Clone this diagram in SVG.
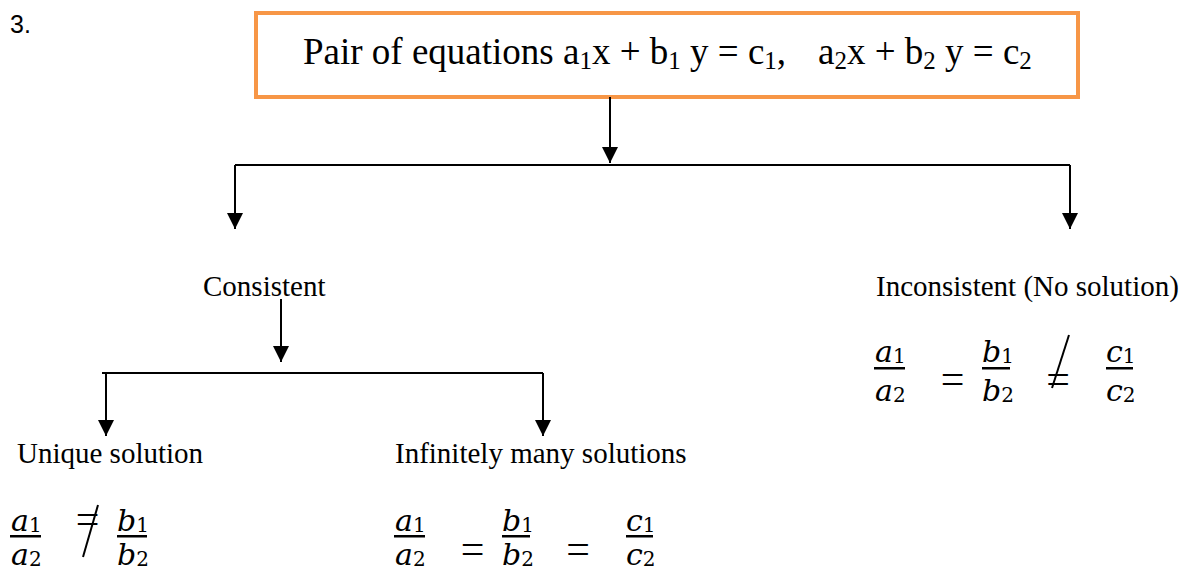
<svg xmlns="http://www.w3.org/2000/svg" width="1182" height="572" viewBox="0 0 1182 572">
<style>
.t{font-family:"Liberation Serif","Times New Roman",serif;fill:#000}
.title{font-size:37px}
.tsub{font-size:25px}
.lbl{font-size:29px}
.num{font-family:"Liberation Sans",Arial,sans-serif;font-size:25px;fill:#000}
.mi{font-family:"DejaVu Serif",serif;font-style:italic;font-size:30px;fill:#000}
.ms{font-family:"DejaVu Serif",serif;font-style:normal;font-size:20px}
.eq{font-family:"Liberation Serif",serif;font-size:42px;fill:#000}
.bar{fill:#000}
.conn{stroke:#000;stroke-width:2;fill:none}
.slash{stroke:#000;stroke-width:2;fill:none}
</style>
<defs>
<marker id="arr" markerUnits="userSpaceOnUse" markerWidth="16" markerHeight="16" viewBox="0 0 16 16" refX="16" refY="8" orient="auto">
<path d="M0,0 L16,8 L0,16 Z" fill="#000"/>
</marker>
</defs>
<rect width="1182" height="572" fill="#fff"/>
<text class="num" x="10" y="33">3.</text>

<g id="root">
<rect x="256" y="13" width="822" height="84" fill="#fff" stroke="#F79646" stroke-width="4"/>
<text class="t title" x="303" y="64">Pair of equations a<tspan class="tsub" dy="5">1</tspan><tspan dy="-5">x + b</tspan><tspan class="tsub" dy="5">1</tspan><tspan dy="-5"> y = c</tspan><tspan class="tsub" dy="5">1</tspan><tspan dy="-5">,</tspan><tspan x="818">a</tspan><tspan class="tsub" dy="5">2</tspan><tspan dy="-5">x + b</tspan><tspan class="tsub" dy="5">2</tspan><tspan dy="-5"> y = c</tspan><tspan class="tsub" dy="5">2</tspan></text>
</g>

<g id="connectors">
<line class="conn" x1="610" y1="97" x2="610" y2="163" marker-end="url(#arr)"/>
<polyline class="conn" points="235,165 1070,165"/>
<line class="conn" x1="235" y1="165" x2="235" y2="229" marker-end="url(#arr)"/>
<line class="conn" x1="1070" y1="165" x2="1070" y2="229" marker-end="url(#arr)"/>
<line class="conn" x1="281" y1="299" x2="281" y2="362" marker-end="url(#arr)"/>
<polyline class="conn" points="102,373 543,373"/>
<line class="conn" x1="106" y1="373" x2="106" y2="436" marker-end="url(#arr)"/>
<line class="conn" x1="543" y1="373" x2="543" y2="436" marker-end="url(#arr)"/>
</g>

<g id="consistent">
<text class="t lbl" x="203" y="296">Consistent</text>
</g>

<g id="inconsistent">
<text class="t lbl" x="876" y="296">Inconsistent (No solution)</text>
<text class="mi" x="875" y="362">a<tspan class="ms" dy="1">1</tspan></text>
<rect class="bar" x="874" y="367" width="31" height="2.5"/>
<text class="mi" x="875" y="401">a<tspan class="ms" dy="1">2</tspan></text>
<text class="eq" x="952.5" y="393" text-anchor="middle">=</text>
<text class="mi" x="982" y="362">b<tspan class="ms" dy="1">1</tspan></text>
<rect class="bar" x="982" y="367" width="28" height="2.5"/>
<text class="mi" x="982" y="401">b<tspan class="ms" dy="1">2</tspan></text>
<text class="eq" x="1058" y="393" text-anchor="middle">=</text>
<line class="slash" x1="1069" y1="335" x2="1052" y2="388"/>
<text class="mi" x="1106" y="362">c<tspan class="ms" dy="1">1</tspan></text>
<rect class="bar" x="1106" y="367" width="27" height="2.5"/>
<text class="mi" x="1106" y="401">c<tspan class="ms" dy="1">2</tspan></text>
</g>

<g id="unique">
<text class="t lbl" x="17" y="463">Unique solution</text>
<text class="mi" x="11" y="531">a<tspan class="ms" dy="1">1</tspan></text>
<rect class="bar" x="10" y="535" width="31" height="2.5"/>
<text class="mi" x="11" y="565">a<tspan class="ms" dy="1">2</tspan></text>
<text class="eq" x="87.5" y="533" text-anchor="middle">=</text>
<line class="slash" x1="98" y1="505" x2="83" y2="557"/>
<text class="mi" x="117" y="531">b<tspan class="ms" dy="1">1</tspan></text>
<rect class="bar" x="117" y="535" width="30" height="2.5"/>
<text class="mi" x="117" y="565">b<tspan class="ms" dy="1">2</tspan></text>
</g>

<g id="infinite">
<text class="t lbl" x="395" y="463">Infinitely many solutions</text>
<text class="mi" x="395" y="531">a<tspan class="ms" dy="1">1</tspan></text>
<rect class="bar" x="394" y="535" width="31" height="2.5"/>
<text class="mi" x="395" y="565">a<tspan class="ms" dy="1">2</tspan></text>
<text class="eq" x="472.5" y="563" text-anchor="middle">=</text>
<text class="mi" x="502" y="531">b<tspan class="ms" dy="1">1</tspan></text>
<rect class="bar" x="502" y="535" width="28" height="2.5"/>
<text class="mi" x="502" y="565">b<tspan class="ms" dy="1">2</tspan></text>
<text class="eq" x="578" y="563" text-anchor="middle">=</text>
<text class="mi" x="626" y="531">c<tspan class="ms" dy="1">1</tspan></text>
<rect class="bar" x="626" y="535" width="27" height="2.5"/>
<text class="mi" x="626" y="565">c<tspan class="ms" dy="1">2</tspan></text>
</g>
</svg>
